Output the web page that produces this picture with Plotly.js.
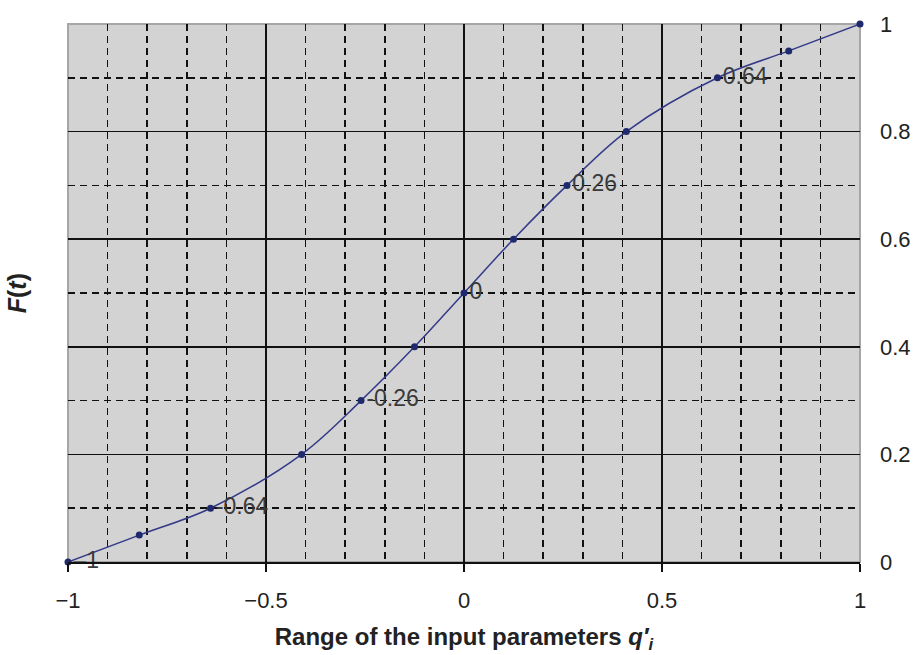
<!DOCTYPE html>
<html>
<head>
<meta charset="utf-8">
<script src="https://cdn.plot.ly/plotly-3.0.1.min.js"></script>
<style>html,body{margin:0;padding:0;background:#fff;}#chart{width:914px;height:655px;}</style>
</head>
<body>
<div id="chart"></div>
<script>
const qValues = [-1, -0.82, -0.64, -0.41, -0.26, -0.125, 0, 0.125, 0.26, 0.41, 0.64, 0.82, 1];
const fValues = [0, 0.05, 0.1, 0.2, 0.3, 0.4, 0.5, 0.6, 0.7, 0.8, 0.9, 0.95, 1];
const pointLabels = ["\u20131", "", "-0.64", "", "-0.26", "", "0", "", "0.26", "", "0.64", "", ""];
const xTickVals = [-1, -0.5, 0, 0.5, 1];
const yTickVals = [0, 0.2, 0.4, 0.6, 0.8, 1];
const yTickText = ["0", "0.2", "0.4", "0.6", "0.8", "1"];

const font = "Liberation Sans, Arial, sans-serif";

const labelled = pointLabels.map((t, i) => i).filter(i => pointLabels[i] !== "");

const curve = {
  x: qValues,
  y: fValues,
  mode: "lines+markers",
  line: {color: "#333a88", width: 1.5, shape: "spline", smoothing: 1},
  marker: {color: "#1f2a6e", size: 7, symbol: "circle"},
  cliponaxis: false,
  hoverinfo: "x+y"
};

const labels = {
  x: labelled.map(i => qValues[i]),
  y: labelled.map(i => fValues[i]),
  text: labelled.map(i => pointLabels[i]),
  mode: "markers+text",
  marker: {size: 7, opacity: 0, color: "#1f2a6e"},
  textposition: "middle right",
  textfont: {family: font, size: 23, color: "#3a3a3a"},
  cliponaxis: false,
  hoverinfo: "skip"
};

const layout = {
  width: 914, height: 655,
  margin: {l: 68, r: 54, t: 24, b: 93},
  paper_bgcolor: "#ffffff",
  plot_bgcolor: "#d3d3d3",
  showlegend: false,
  font: {family: font, size: 22, color: "#222"},
  xaxis: {
    range: [-1, 1],
    tickvals: xTickVals,
    showgrid: true, gridcolor: "#111", gridwidth: 1.5,
    minor: {dtick: 0.1, tick0: 0, showgrid: true, gridcolor: "#111", gridwidth: 1.5, griddash: "7px,5px", ticks: ""},
    zeroline: false,
    showline: true, linecolor: "#111", linewidth: 1.5,
    ticks: "outside", ticklen: 8, tickwidth: 1.5, tickcolor: "#111",
    ticklabelstandoff: 10,
    tickfont: {family: font, size: 22, color: "#222"},
    title: {text: "<b>Range of the input parameters <i>q′</i><sub><i>i</i></sub></b>", font: {family: font, size: 24, color: "#222"}, standoff: 16}
  },
  yaxis: {
    range: [0, 1],
    side: "right",
    tickvals: yTickVals,
    ticktext: yTickText,
    showgrid: true, gridcolor: "#111", gridwidth: 1.5,
    minor: {dtick: 0.1, tick0: 0, showgrid: true, gridcolor: "#111", gridwidth: 1.5, griddash: "7px,5px", ticks: ""},
    zeroline: false,
    showline: false,
    ticks: "", ticklabelstandoff: 19,
    tickfont: {family: font, size: 22, color: "#222"}
  },
  shapes: [{
    type: "rect", xref: "x domain", yref: "y domain", x0: 0, x1: 1, y0: 0, y1: 1,
    line: {color: "#a6a6a6", width: 2}, layer: "below"
  }],
  annotations: [{
    text: "<b><i>F</i>(<i>t</i>)</b>",
    xref: "paper", yref: "paper", x: -0.064, y: 0.5,
    xanchor: "center", yanchor: "middle",
    textangle: -90, showarrow: false,
    font: {family: font, size: 25, color: "#222"}
  }]
};

Plotly.newPlot("chart", [curve, labels], layout, {displayModeBar: false, staticPlot: true});
</script>
</body>
</html>
